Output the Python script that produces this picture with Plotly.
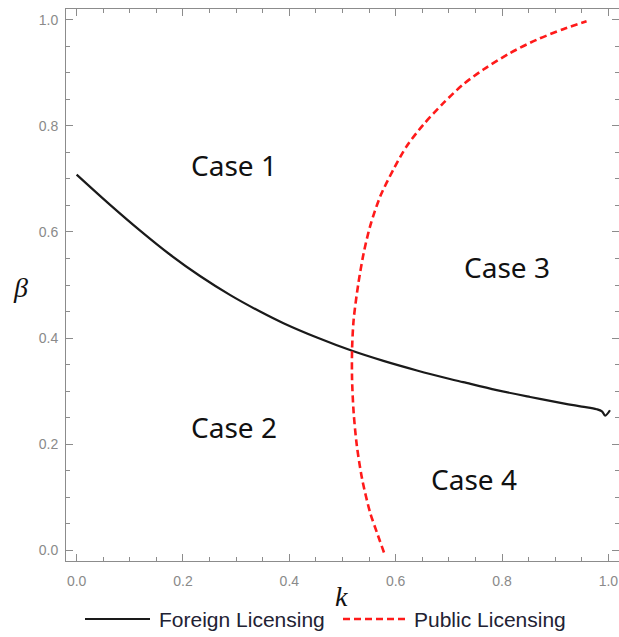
import plotly.graph_objects as go

# Foreign Licensing boundary (black solid)
foreign_k = [0.0, 0.063, 0.120, 0.176, 0.232, 0.289, 0.345, 0.389, 0.452, 0.518,
             0.577, 0.640, 0.702, 0.727, 0.790, 0.853, 0.915, 0.950, 0.978, 0.988,
             0.994, 1.003]
foreign_beta = [0.708, 0.651, 0.602, 0.557, 0.517, 0.481, 0.450, 0.428, 0.401, 0.376,
                0.357, 0.339, 0.323, 0.317, 0.302, 0.289, 0.277, 0.271, 0.266, 0.262,
                0.254, 0.264]

# Public Licensing boundary (red dashed)
public_k = [0.578, 0.565, 0.552, 0.537, 0.527, 0.521, 0.518, 0.518, 0.521, 0.530,
            0.540, 0.552, 0.571, 0.596, 0.621, 0.652, 0.690, 0.727, 0.765, 0.815,
            0.865, 0.915, 0.959]
public_beta = [-0.004, 0.033, 0.071, 0.134, 0.197, 0.259, 0.322, 0.379, 0.435, 0.504,
               0.561, 0.611, 0.667, 0.718, 0.762, 0.802, 0.843, 0.878, 0.906, 0.937,
               0.962, 0.982, 0.997]

case_labels = ["Case 1", "Case 2", "Case 3", "Case 4"]
case_k = [0.295, 0.295, 0.810, 0.747]
case_beta = [0.727, 0.232, 0.533, 0.134]

legend_names = ["Foreign Licensing", "Public Licensing"]

tick_vals = [0.0, 0.2, 0.4, 0.6, 0.8, 1.0]
tick_text = ["0.0", "0.2", "0.4", "0.6", "0.8", "1.0"]

FRAME = "#8c8c8c"
BLACK = "#1a1a1a"
RED = "#ff1a1a"
RED_DASH = "7px,4px"
TICKFONT = dict(family="Liberation Sans", size=14, color="#8a8a8a")

fig = go.Figure()
fig.add_trace(go.Scatter(x=foreign_k, y=foreign_beta, mode="lines",
                         name=legend_names[0], line_shape="spline",
                         line=dict(color=BLACK, width=2.2, smoothing=1.0),
                         showlegend=False))
fig.add_trace(go.Scatter(x=public_k, y=public_beta, mode="lines",
                         name=legend_names[1], line_shape="spline",
                         line=dict(color=RED, width=2.6, dash=RED_DASH, smoothing=0.8),
                         showlegend=False))

for lab, kx, by in zip(case_labels, case_k, case_beta):
    fig.add_annotation(x=kx, y=by, text=lab, showarrow=False,
                       font=dict(family="Noto Sans", size=28, color="#111111"))

fig.add_annotation(xref="paper", yref="paper", x=0.498, y=-0.065, text="k",
                   showarrow=False, yanchor="middle",
                   font=dict(family="Liberation Serif", size=28, color="#111111", style="italic"))
fig.add_annotation(xref="paper", yref="paper", x=-0.1, y=0.495, text="β",
                   showarrow=False,
                   font=dict(family="Liberation Serif", size=28, color="#111111", style="italic"))

# custom legend below the plot (paper coordinates)
PW = 553.0
PH = 552.0
def px_x(p):
    return (p - 66) / PW
leg_y = (561 - 619) / PH
fig.add_shape(type="line", xref="paper", yref="paper",
              x0=px_x(85), x1=px_x(150), y0=leg_y, y1=leg_y,
              line=dict(color=BLACK, width=2.2))
fig.add_shape(type="line", xref="paper", yref="paper",
              x0=px_x(343), x1=px_x(405), y0=leg_y, y1=leg_y,
              line=dict(color=RED, width=2.6, dash=RED_DASH))
fig.add_annotation(xref="paper", yref="paper", x=px_x(157), y=leg_y, text=legend_names[0],
                   showarrow=False, xanchor="left", yanchor="middle",
                   font=dict(family="Liberation Sans", size=21, color="#222233"))
fig.add_annotation(xref="paper", yref="paper", x=px_x(412), y=leg_y, text=legend_names[1],
                   showarrow=False, xanchor="left", yanchor="middle",
                   font=dict(family="Liberation Sans", size=21, color="#222233"))

axis_common = dict(
    showgrid=False, zeroline=False, showline=True, linecolor=FRAME, linewidth=1,
    mirror="ticks", ticks="inside", ticklen=7, tickwidth=1, tickcolor=FRAME,
    tickvals=tick_vals, ticktext=tick_text, tickfont=TICKFONT,
    minor=dict(dtick=0.05, ticks="inside", ticklen=4, tickwidth=1, tickcolor=FRAME),
)
fig.update_xaxes(range=[-0.02, 1.02], ticklabelstandoff=7, **axis_common)
fig.update_yaxes(range=[-0.02, 1.02], ticklabelstandoff=4, **axis_common)

fig.update_layout(
    width=619, height=637,
    margin=dict(l=66, r=0, t=9, b=76),
    plot_bgcolor="white", paper_bgcolor="white",
    showlegend=False,
)

fig.write_html("out.html")
